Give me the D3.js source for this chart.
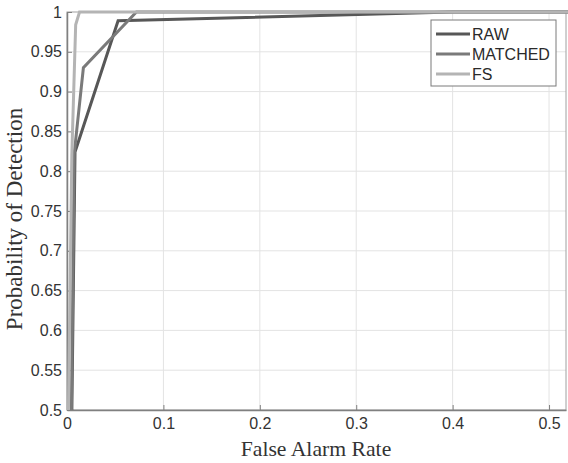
<!DOCTYPE html>
<html><head><meta charset="utf-8">
<script src="https://cdn.jsdelivr.net/npm/d3@7/dist/d3.min.js"></script>
<style>body{margin:0;background:#fff}svg{display:block}</style>
</head><body>
<svg id="c" width="568" height="463"></svg>
<script>
const seriesNames = ["RAW", "MATCHED", "FS"];
const rawX = [0, 0.0083, 0.053, 0.40, 0.52];
const rawY = [0, 0.824, 0.989, 1.0, 1.0];
const matchedX = [0, 0.0075, 0.017, 0.072, 0.52];
const matchedY = [0, 0.822, 0.930, 1.0, 1.0];
const fsX = [0, 0.0015, 0.005, 0.009, 0.013, 0.52];
const fsY = [0, 0.5, 0.82, 0.984, 1.0, 1.0];
const xTicks = [0, 0.1, 0.2, 0.3, 0.4, 0.5];
const yTicks = [0.5, 0.55, 0.6, 0.65, 0.7, 0.75, 0.8, 0.85, 0.9, 0.95, 1];
const colors = ["#575757", "#7a7a7a", "#b4b4b4"];

const L = 67, R = 566, T = 12, B = 410;
const x = d3.scaleLinear().domain([0, 0.5176]).range([L, R]);
const y = d3.scaleLinear().domain([0.5, 1]).range([B, T]);
const svg = d3.select("#c");
const sans = "'Liberation Sans', Arial, sans-serif";
const serif = "'Liberation Serif', 'Times New Roman', serif";

// grid
svg.append("g").selectAll("line").data(xTicks.slice(1)).join("line")
  .attr("x1", d => x(d)).attr("x2", d => x(d)).attr("y1", T).attr("y2", B)
  .attr("stroke", "#e3e3e3").attr("stroke-width", 1);
svg.append("g").selectAll("line").data(yTicks.slice(0, -1)).join("line")
  .attr("x1", L).attr("x2", R).attr("y1", d => y(d)).attr("y2", d => y(d))
  .attr("stroke", "#e3e3e3").attr("stroke-width", 1);

// box
svg.append("rect").attr("x", L).attr("y", T).attr("width", R - L).attr("height", B - T)
  .attr("fill", "none").attr("stroke", "#a0a0a0").attr("stroke-width", 1);

// axes
const fmt = d => String(+d.toFixed(2));
const xAxis = d3.axisBottom(x).tickValues(xTicks).tickFormat(fmt).tickSizeInner(-5).tickSizeOuter(0).tickPadding(8);
const yAxis = d3.axisLeft(y).tickValues(yTicks).tickFormat(fmt).tickSizeInner(-5).tickSizeOuter(0).tickPadding(5);
const gx = svg.append("g").attr("transform", `translate(0,${B})`).call(xAxis);
const gy = svg.append("g").attr("transform", `translate(${L},0)`).call(yAxis);
[gx, gy].forEach(g => {
  g.select(".domain").attr("stroke", "#808080").attr("stroke-width", 1.5);
  g.selectAll(".tick line").attr("stroke", "#808080");
  g.selectAll(".tick text").attr("fill", "#333").style("font-family", sans).style("font-size", "16px");
});

// clip
svg.append("clipPath").attr("id", "clip").append("rect").attr("x", L).attr("y", T - 3).attr("width", R - L + 2).attr("height", B - T + 3);

const series = [
  {name: seriesNames[0], xs: rawX, ys: rawY, color: colors[0]},
  {name: seriesNames[1], xs: matchedX, ys: matchedY, color: colors[1]},
  {name: seriesNames[2], xs: fsX, ys: fsY, color: colors[2]}
];
const line = d3.line().x(d => x(d[0])).y(d => y(d[1]));
const gl = svg.append("g").attr("clip-path", "url(#clip)");
series.forEach(s => {
  gl.append("path").datum(s.xs.map((v, i) => [v, s.ys[i]]))
    .attr("d", line).attr("fill", "none").attr("stroke", s.color).attr("stroke-width", 3);
});

// legend
const lg = svg.append("g");
lg.append("rect").attr("x", 431).attr("y", 20).attr("width", 125).attr("height", 66)
  .attr("fill", "#fff").attr("stroke", "#7a7a7a").attr("stroke-width", 1);
series.forEach((s, i) => {
  const yy = 34 + i * 20;
  lg.append("line").attr("x1", 436).attr("x2", 470).attr("y1", yy).attr("y2", yy)
    .attr("stroke", s.color).attr("stroke-width", 3);
  lg.append("text").attr("x", 472).attr("y", yy + 6).text(s.name)
    .attr("fill", "#2a2a2a").style("font-family", sans).style("font-size", "16px");
});

// titles
svg.append("text").attr("x", 316).attr("y", 456).attr("text-anchor", "middle")
  .text("False Alarm Rate").attr("fill", "#333")
  .style("font-family", serif).style("font-size", "21.7px");
svg.append("text").attr("transform", `translate(22,219) rotate(-90)`).attr("text-anchor", "middle")
  .text("Probability of Detection").attr("fill", "#333")
  .style("font-family", serif).style("font-size", "23px");
</script>
</body></html>
